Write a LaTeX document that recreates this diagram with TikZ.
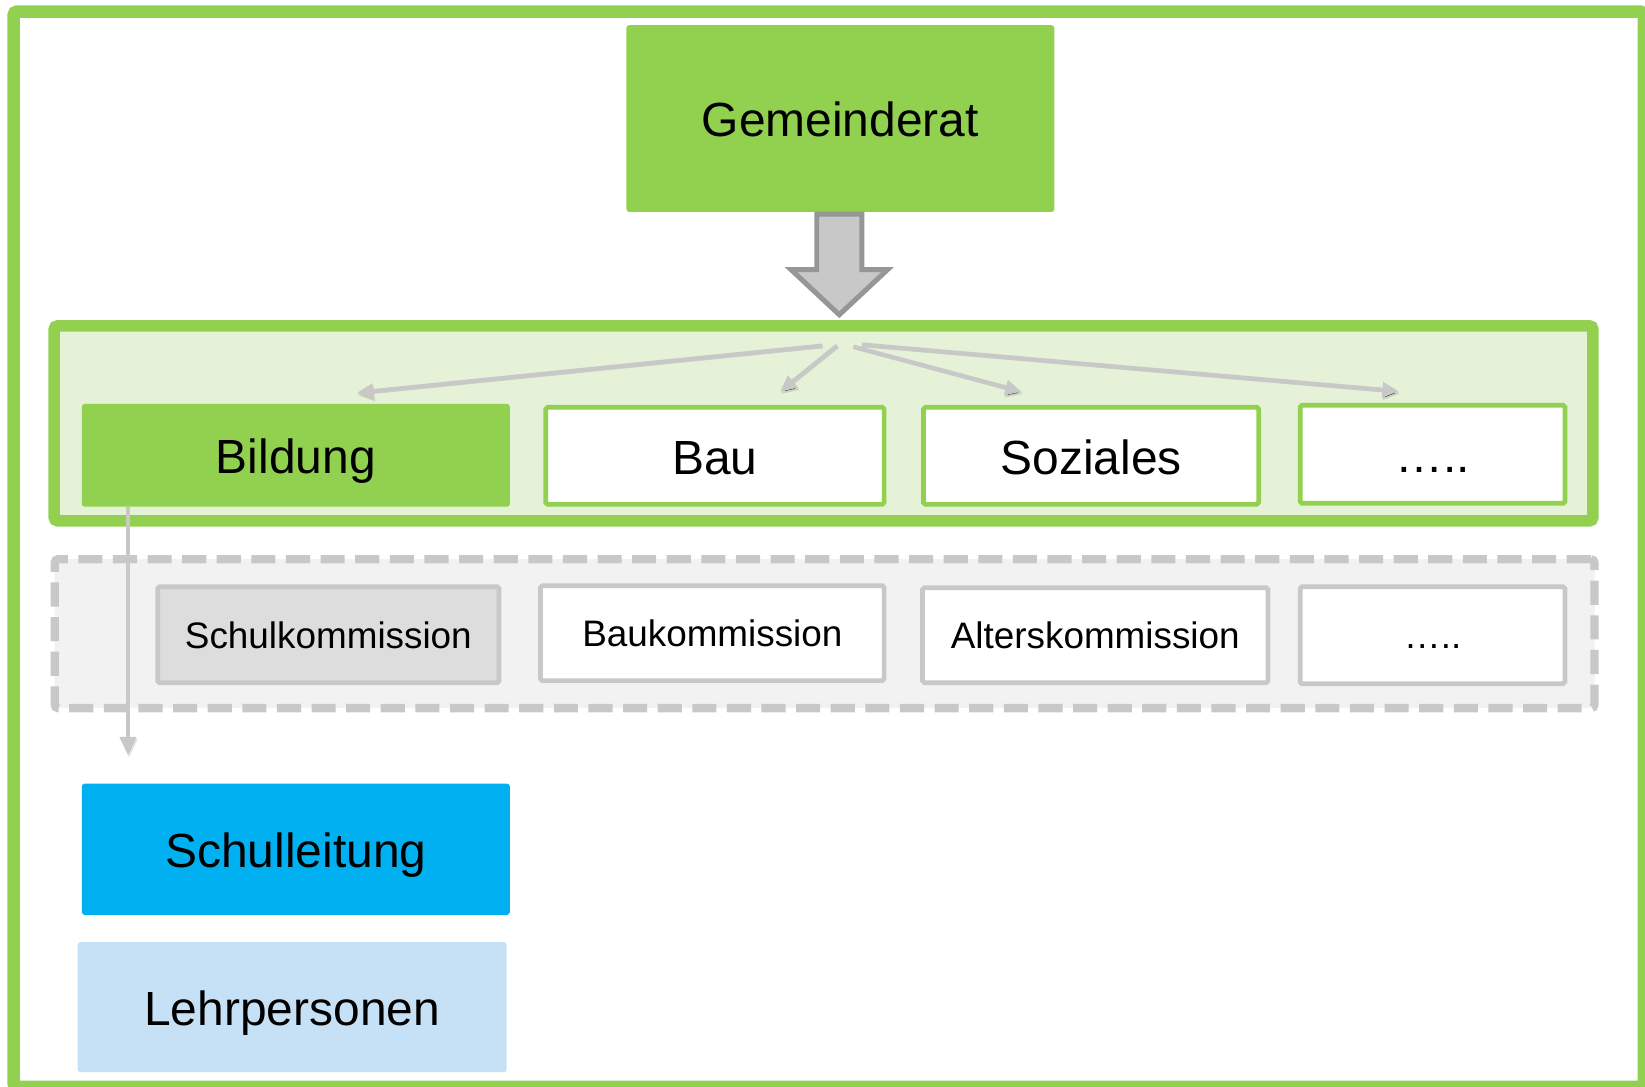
\documentclass[tikz,border=0pt]{standalone}
\usepackage{fontspec}
\setmainfont{Liberation Sans}
\usetikzlibrary{arrows.meta}
\definecolor{gGreen}{HTML}{92D050}
\definecolor{gLight}{HTML}{E5F2D7}
\definecolor{gGray}{HTML}{C8C8C8}
\definecolor{gDark}{HTML}{969696}
\definecolor{gBoxGray}{HTML}{DDDDDD}
\definecolor{gDashFill}{HTML}{F2F2F2}
\definecolor{gBlue}{HTML}{00B0F0}
\definecolor{gLightBlue}{HTML}{C6E1F5}
\tikzset{
  bigtext/.style={font=\fontsize{26}{30}\selectfont, text height=20pt, text depth=0pt},
  smalltext/.style={font=\fontsize{20}{24}\selectfont, text height=14.6pt, text depth=0pt},
  solidgreen/.style={rectangle, fill=gGreen, rounded corners=1.5pt, inner sep=0pt, bigtext},
  greenframe/.style={rectangle, draw=gGreen, fill=white, line width=2.55pt, rounded corners=1pt, inner sep=0pt, bigtext},
  grayframe/.style={rectangle, draw=gGray, fill=white, line width=2.55pt, rounded corners=1pt, inner sep=0pt, smalltext},
  arrowshadow/.style={preaction={draw=black, draw opacity=0.12, transform canvas={shift={(0.6pt,-1.2pt)}}}},
  fanarrow/.style={draw=gGray, line width=2.4pt, -{Triangle[length=9pt,width=8pt]}, arrowshadow},
}
\begin{document}
\begin{tikzpicture}[x=0.02cm,y=-0.02cm]
\useasboundingbox (0,0) rectangle (1568,1036);
% outer frame
\draw[gGreen, line width=0.24cm, rounded corners=2pt] (13,11) rectangle (1567,1036);

% Gemeinderat
\node[solidgreen, minimum width=8.16cm, minimum height=3.56cm] (gr) at (801,113) {Gemeinderat};

% container of departments
\node[rectangle, draw=gGreen, fill=gLight, line width=0.22cm, rounded corners=2pt,
      minimum width=29.34cm, minimum height=3.72cm, inner sep=0pt] (dep) at (785,403.5) {};

% big arrow
\draw[draw=gDark, fill=gGray, line width=2.7pt, line join=miter]
  (778.5,204) -- (821.5,204) -- (821.5,257) -- (846,257) -- (800,300)
  -- (754,257) -- (778.5,257) -- cycle;

% departments
\node[solidgreen, minimum width=8.16cm, minimum height=1.96cm] (bild) at (282,434) {Bildung};
\node[greenframe, minimum width=6.45cm, minimum height=1.85cm] (bau) at (681.5,434.5) {Bau};
\node[greenframe, minimum width=6.39cm, minimum height=1.85cm] (soz) at (1040,434.5) {Soziales};
\node[greenframe, minimum width=5.05cm, minimum height=1.87cm] (etc) at (1365.5,433) {…..};

% fan arrows
\coordinate (sA) at (784,329.5);
\coordinate (sB) at (798,329.5);
\coordinate (sC) at (813.5,330.5);
\coordinate (sD) at (821.5,328.5);
\coordinate (tA) at (340,374.5);
\coordinate (tB) at (743.5,373.5);
\coordinate (tC) at (974,373.5);
\coordinate (tD) at (1333.5,373);
\draw[fanarrow] (sA) -- (tA);
\draw[fanarrow] (sB) -- (tB);
\draw[fanarrow] (sC) -- (tC);
\draw[fanarrow] (sD) -- (tD);

% commissions container
\node[rectangle, draw=gGray, fill=gDashFill, line width=0.16cm, dash pattern=on 0.46cm off 0.2cm,
      rounded corners=2pt, minimum width=29.36cm, minimum height=2.84cm, inner sep=0pt] (com) at (786,604) {};
\node[grayframe, fill=gBoxGray, minimum width=6.51cm, minimum height=1.83cm] (schk) at (313,605) {Schulkommission};
\node[grayframe, minimum width=6.55cm, minimum height=1.81cm] (bauk) at (679,603.5) {Baukommission};
\node[grayframe, minimum width=6.59cm, minimum height=1.81cm] (altk) at (1044,605.5) {Alterskommission};
\node[grayframe, minimum width=5.05cm, minimum height=1.85cm] (etck) at (1365.5,605.5) {…..};

% Bildung down arrow
\coordinate (bstart) at (122,483);
\coordinate (bend) at (122,720);
\draw[draw=gGray, line width=2.7pt, -{Triangle[length=10pt,width=8.5pt]}, arrowshadow] (bstart) -- (bend);

% school
\node[rectangle, fill=gBlue, rounded corners=1.5pt, inner sep=0pt, bigtext,
      minimum width=8.16cm, minimum height=2.5cm] (sl) at (282,809.5) {Schulleitung};
\node[rectangle, fill=gLightBlue, rounded corners=1.5pt, inner sep=0pt, bigtext,
      minimum width=8.18cm, minimum height=2.48cm] (lp) at (278.5,960) {Lehrpersonen};
\end{tikzpicture}
\end{document}
